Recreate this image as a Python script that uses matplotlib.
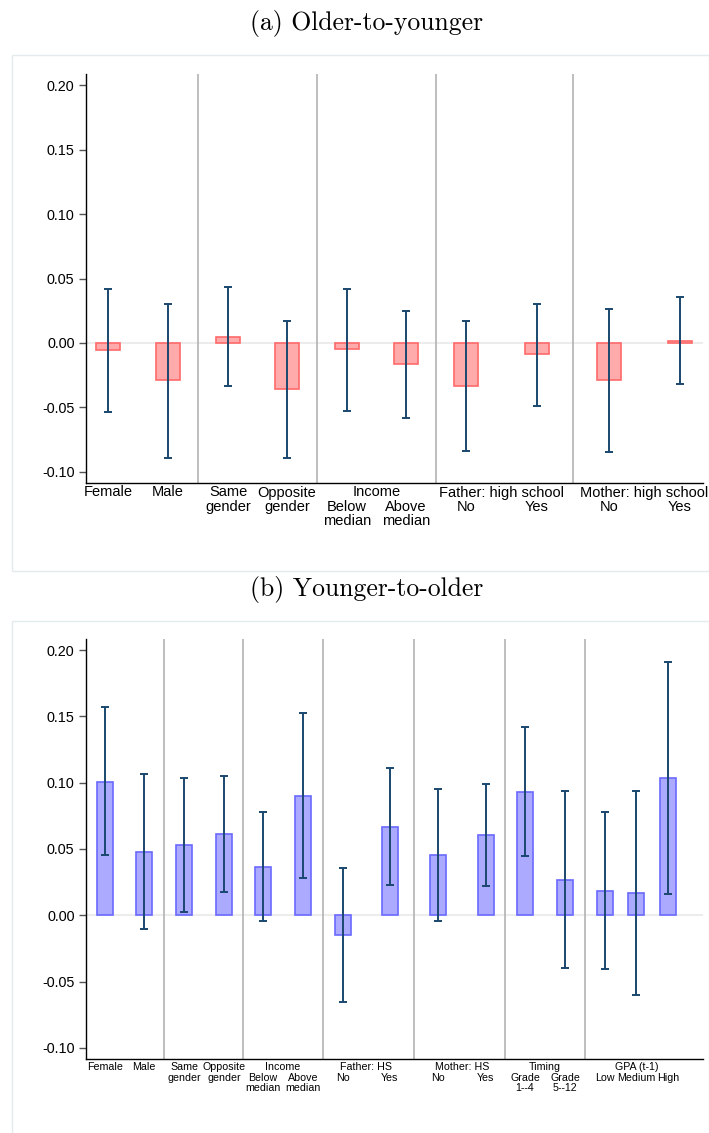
import numpy as np
import matplotlib
matplotlib.use("Agg")
import matplotlib.pyplot as plt
from matplotlib.patches import Rectangle
from matplotlib.ticker import FormatStrFormatter

plt.rcParams['font.family'] = ['Liberation Sans', 'DejaVu Sans']

# (a) older-to-younger: point estimates and 95% CI
a_labels = ["Female", "Male", "Same\ngender", "Opposite\ngender",
            "Below\nmedian", "Above\nmedian", "No", "Yes", "No", "Yes"]
a_headers = ["", "", "Income", "Father: high school", "Mother: high school"]
a_groups = [[0, 1], [2, 3], [4, 5], [6, 7], [8, 9]]
a_coef = [-0.0055, -0.0290, 0.0049, -0.0357, -0.0049, -0.0163, -0.0334, -0.0085, -0.0287, 0.0016]
a_lo = [-0.0533, -0.0893, -0.0336, -0.0890, -0.0525, -0.0582, -0.0839, -0.0487, -0.0844, -0.0318]
a_hi = [0.0417, 0.0305, 0.0435, 0.0171, 0.0422, 0.0251, 0.0171, 0.0303, 0.0264, 0.0360]

# (b) younger-to-older
b_labels = ["Female", "Male", "Same\ngender", "Opposite\ngender",
            "Below\nmedian", "Above\nmedian", "No", "Yes", "No", "Yes",
            "Grade\n1--4", "Grade\n5--12", "Low", "Medium", "High"]
b_headers = ["", "", "Income", "Father: HS", "Mother: HS", "Timing", "GPA (t-1)"]
b_groups = [[0, 1], [2, 3], [4, 5], [6, 7], [8, 9], [10, 11], [12, 13, 14]]
b_coef = [0.1008, 0.0475, 0.0528, 0.0611, 0.0367, 0.0902, -0.0149, 0.0668,
          0.0452, 0.0603, 0.0932, 0.0264, 0.0186, 0.0166, 0.1033]
b_lo = [0.0457, -0.0106, 0.0025, 0.0178, -0.0045, 0.0284, -0.0654, 0.0229,
        -0.0043, 0.0223, 0.0447, -0.0400, -0.0405, -0.0603, 0.0163]
b_hi = [0.1570, 0.1063, 0.1035, 0.1053, 0.0781, 0.1526, 0.0357, 0.1110,
        0.0955, 0.0993, 0.1422, 0.0935, 0.0779, 0.0937, 0.1913]

yticks = [-0.10, -0.05, 0.00, 0.05, 0.10, 0.15, 0.20]

# layout (pixel units along the x axis)
W, H = 709, 1133
x_left, x_right = 85.7, 703
a_pos = [108, 168, 228, 287, 347, 406, 466, 537, 609, 680]
b_pos = [105, 144, 184, 224, 263, 303, 343, 390, 438, 486, 525, 565, 605, 636, 668]

fig = plt.figure(figsize=(W / 100, H / 100), dpi=100)


def frame(top, bottom):
    fig.add_artist(Rectangle((12 / W, 1 - bottom / H), (W - 12) / W, (bottom - top) / H,
                             transform=fig.transFigure, fill=False,
                             edgecolor='#e4ebee', lw=1.0))


def panel(rect, pos, coef, lo, hi, labels, headers, groups, width,
          fill, edge, fsize, rows, ylim):
    ax = fig.add_axes(rect)
    coef = np.array(coef)
    err = [coef - np.array(lo), np.array(hi) - coef]
    ax.axhline(0, color='#ececec', lw=1.5, zorder=1)
    ax.bar(pos, coef, width=width, color=fill, edgecolor=edge, lw=1.2, zorder=2)
    ax.errorbar(pos, coef, yerr=err, fmt='none', ecolor='#1a476f',
                elinewidth=1.4, capsize=3, capthick=1.4, zorder=3)
    # vertical dividers between groups
    for g0, g1 in zip(groups[:-1], groups[1:]):
        ax.axvline((pos[g0[-1]] + pos[g1[0]]) / 2, color='#b3b3b3', lw=1.2, zorder=1)
    ax.set_xlim(x_left, x_right)
    ax.set_ylim(*ylim)
    ax.set_xticks([])
    ax.set_yticks(yticks)
    ax.yaxis.set_major_formatter(FormatStrFormatter('%.2f'))
    ax.tick_params(axis='y', length=5, width=1, color='#555555', labelsize=10.4, pad=3)
    for s in ['top', 'right']:
        ax.spines[s].set_visible(False)
    for s in ['left', 'bottom']:
        ax.spines[s].set_linewidth(1.0)
        ax.spines[s].set_color('black')
    for hdr, g in zip(headers, groups):
        start = 0
        if hdr:
            xc = np.mean([pos[i] for i in g])
            ax.annotate(hdr, (xc, 0), xycoords=('data', 'axes fraction'),
                        xytext=(0, -rows[0]), textcoords='offset pixels',
                        ha='center', va='center', fontsize=fsize)
            start = 1
        for i in g:
            for k, line in enumerate(labels[i].split('\n')):
                ax.annotate(line, (pos[i], 0), xycoords=('data', 'axes fraction'),
                            xytext=(0, -rows[start + k]), textcoords='offset pixels',
                            ha='center', va='center', fontsize=fsize)
    return ax


# panel (a)
frame(55, 571.5)
fig.text(367 / W, 1 - 30 / H, "(a) Older-to-younger", family='cmr10',
         fontsize=18.5, ha='center', va='baseline')
top_a, bot_a = 74, 482.7
panel([x_left / W, 1 - bot_a / H, (x_right - x_left) / W, (bot_a - top_a) / H],
      a_pos, a_coef, a_lo, a_hi, a_labels, a_headers, a_groups, 23.3,
      '#ffabab', '#ff6a6a', 10.5, [9.8, 24, 38], (-0.1085, 0.2088))

# panel (b)
frame(620.7, 1140)
fig.text(367 / W, 1 - 596 / H, "(b) Younger-to-older", family='cmr10',
         fontsize=18.5, ha='center', va='baseline')
top_b, bot_b = 639.3, 1059.3
panel([x_left / W, 1 - bot_b / H, (x_right - x_left) / W, (bot_b - top_b) / H],
      b_pos, b_coef, b_lo, b_hi, b_labels, b_headers, b_groups, 15.7,
      '#abaaff', '#6a6aff', 7.7, [8, 18.3, 28.7], (-0.1086, 0.2081))

fig.savefig("out.png", dpi=100)
